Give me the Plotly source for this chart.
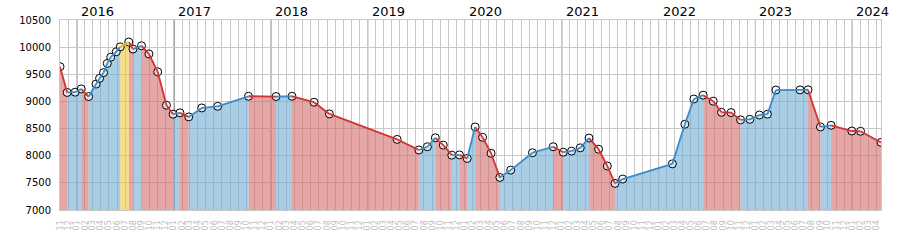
import plotly.graph_objects as go

dates = [
    "2015-10-30", "2015-11-26", "2015-12-26", "2016-01-18", "2016-02-15", "2016-03-14",
    "2016-03-27", "2016-04-11", "2016-04-25", "2016-05-08", "2016-05-29", "2016-06-13",
    "2016-07-15", "2016-07-31", "2016-09-01", "2016-09-29", "2016-11-01", "2016-12-04",
    "2016-12-29", "2017-01-24", "2017-02-26", "2017-04-16", "2017-06-15", "2017-10-09",
    "2018-01-21", "2018-03-22", "2018-06-13", "2018-08-10", "2019-04-22", "2019-07-13",
    "2019-08-14", "2019-09-13", "2019-10-13", "2019-11-14", "2019-12-13", "2020-01-11",
    "2020-02-10", "2020-03-09", "2020-04-10", "2020-05-13", "2020-06-23", "2020-09-13",
    "2020-11-30", "2021-01-07", "2021-02-07", "2021-03-12", "2021-04-14", "2021-05-20",
    "2021-06-22", "2021-07-21", "2021-08-19", "2022-02-22", "2022-04-10", "2022-05-14",
    "2022-06-18", "2022-07-26", "2022-08-26", "2022-10-01", "2022-11-06", "2022-12-11",
    "2023-01-16", "2023-02-15", "2023-03-19", "2023-06-18", "2023-07-18", "2023-09-03",
    "2023-10-13", "2023-12-30", "2024-02-01", "2024-04-18",
]
values = [
    9640, 9165, 9170, 9230, 9090, 9320,
    9425, 9530, 9700, 9815, 9915, 10005,
    10095, 9965, 10025, 9875, 9545, 8930,
    8765, 8790, 8715, 8880, 8910, 9095,
    9090, 9095, 8985, 8770, 8300, 8105,
    8165, 8330, 8195, 8010, 8015, 7950,
    8530, 8340, 8045, 7600, 7735, 8055,
    8165, 8065, 8085, 8145, 8325, 8120,
    7810, 7490, 7570, 7850, 8580, 9045,
    9115, 9005, 8800, 8795, 8660, 8670,
    8750, 8765, 9210, 9212, 9215, 8530,
    8560, 8455, 8450, 8245,
]
year_labels = ["2016", "2017", "2018", "2019", "2020", "2021", "2022", "2023", "2024"]
y_min, y_max = 7000, 10500

fill_colors = {
    "down": "rgba(212,107,107,0.6)",
    "up": "rgba(110,172,210,0.6)",
    "peak": "rgba(237,200,57,0.6)",
}
line_colors = {"down": "#d03434", "up": "#3a8cc8", "peak": "#e8b82a"}

vmax = max(values)
cats = []
for i in range(len(values) - 1):
    if values[i + 1] == vmax:
        cats.append("peak")
    elif values[i + 1] > values[i]:
        cats.append("up")
    else:
        cats.append("down")

fig = go.Figure()

for c in ["down", "up", "peak"]:
    fx, fy = [], []
    for i, cc in enumerate(cats):
        if cc != c:
            continue
        fx += [dates[i], dates[i + 1], dates[i + 1], dates[i], dates[i], None]
        fy += [values[i], values[i + 1], y_min, y_min, values[i], None]
    fig.add_trace(go.Scatter(x=fx, y=fy, mode="lines", fill="toself",
                             fillcolor=fill_colors[c], line=dict(width=0),
                             hoverinfo="skip", showlegend=False))

fig.add_trace(go.Scatter(x=dates, y=values, mode="markers",
                         marker=dict(symbol="circle", size=8,
                                     color="rgba(255,255,255,0.6)",
                                     line=dict(color="black", width=1)),
                         showlegend=False))

for c in ["down", "up", "peak"]:
    lx, ly = [], []
    for i, cc in enumerate(cats):
        if cc != c:
            continue
        lx += [dates[i], dates[i + 1], None]
        ly += [values[i], values[i + 1], None]
    fig.add_trace(go.Scatter(x=lx, y=ly, mode="lines",
                             line=dict(color=line_colors[c], width=1.8),
                             hoverinfo="skip", showlegend=False))

shapes = []
annotations = []
for yl in year_labels:
    d = f"{yl}-01-01"
    shapes.append(dict(type="line", xref="x", yref="paper", x0=d, x1=d, y0=0, y1=1,
                       line=dict(color="black", width=1), layer="below"))
    annotations.append(dict(x=d, y=1, xref="x", yref="paper", text=yl, showarrow=False,
                            xanchor="left", yanchor="bottom", xshift=2, yshift=-1,
                            font=dict(family="DejaVu Sans", size=13, color="black")))

fig.update_layout(
    width=900, height=250,
    margin=dict(l=60, r=19, t=20, b=40),
    plot_bgcolor="white", paper_bgcolor="white",
    shapes=shapes, annotations=annotations,
    font=dict(family="DejaVu Sans"),
    xaxis=dict(type="date", range=[dates[0], dates[-1]], dtick="M1",
               tick0="2015-11-01", tickformat="%m", tickangle=-90,
               showgrid=True, gridcolor="#c8c8c8", gridwidth=1,
               tickfont=dict(size=8, color="#bdbdbd"),
               ticks="", ticklabelstandoff=6,
               showline=True, linecolor="#c8c8c8", mirror=True, zeroline=False),
    yaxis=dict(range=[y_min, y_max], dtick=500, tickformat="d", showgrid=True,
               gridcolor="#c8c8c8",
               tickfont=dict(size=10, color="black"), ticks="", ticklabelstandoff=6,
               showline=True, linecolor="#c8c8c8", mirror=True, zeroline=False),
)

fig.write_html("out.html")
